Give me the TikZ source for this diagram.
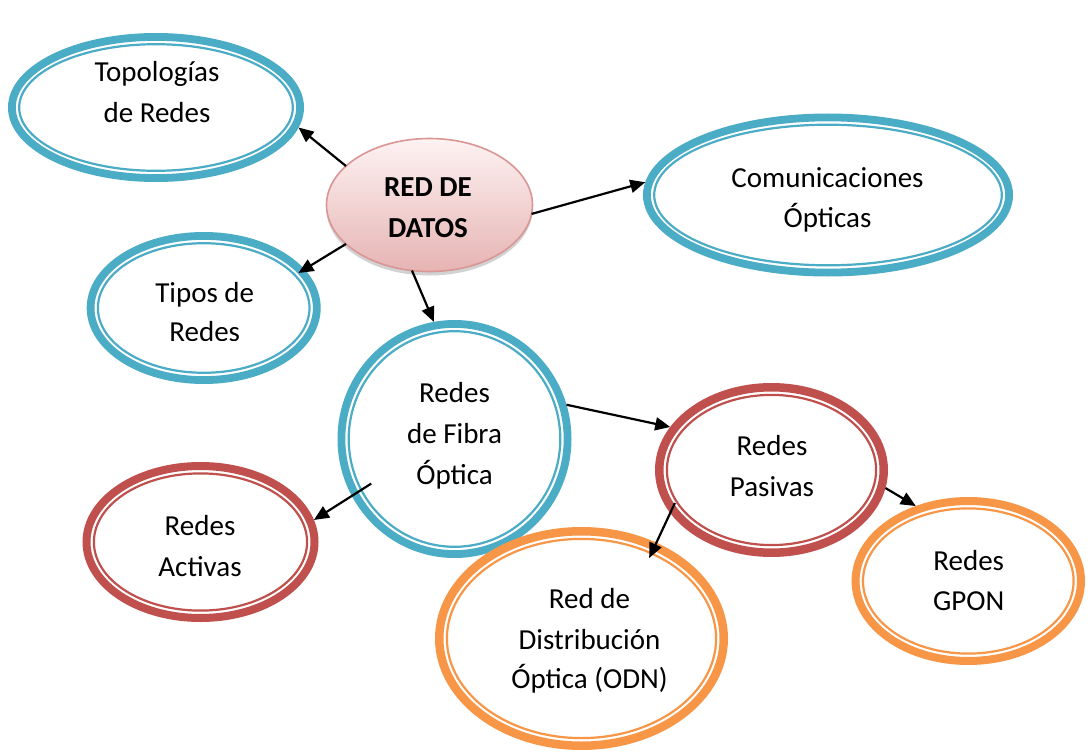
\documentclass[tikz,border=0pt]{standalone}
\usepackage{fontspec}
\setmainfont{Carlito}
\usetikzlibrary{arrows.meta,shapes.geometric,shadows}
\definecolor{ringblue}{HTML}{4BACC6}
\definecolor{ringred}{HTML}{C0504D}
\definecolor{ringorange}{HTML}{F79646}
\definecolor{coreborder}{HTML}{D99694}
\definecolor{coretop}{HTML}{FDF2F2}
\definecolor{corebot}{HTML}{E6B4B3}
% name, rx, ry, colour, outer band width
\newcommand{\drawrings}[5]{%
  \draw[color=#4, line width=#5pt] (#1.center) ellipse [x radius={#2-#5/2}, y radius={#3-#5/2}];
  \draw[color=#4, line width=2.2pt] (#1.center) ellipse [x radius={#2-#5-3.4}, y radius={#3-#5-3.4}];
}
\tikzset{
  hold/.style={ellipse, inner sep=0pt, outer sep=0pt},
  txt/.style={anchor=base, inner sep=0pt, font=\fontsize{29}{35}\selectfont},
  arr/.style={line width=2.2pt, -{Triangle[length=15pt,width=13pt]}},
}
\begin{document}
\begin{tikzpicture}[x=1pt,y=-1pt]
\fill[white] (0,0) rectangle (1088,752);
\useasboundingbox (0,0) rectangle (1088,752);

% ellipses (outer sizes)
\node[hold, minimum width=296pt, minimum height=149pt] (topo) at (156,107.5) {};
\node[hold, minimum width=234pt, minimum height=152pt] (tipos) at (203.7,308) {};
\node[hold, minimum width=370pt, minimum height=163pt] (comm) at (828,195) {};
\node[hold, minimum width=234pt, minimum height=238pt] (fibra) at (454.5,439) {};
\node[hold, minimum width=233pt, minimum height=174pt] (pasivas) at (771.5,470) {};
\node[hold, minimum width=236pt, minimum height=160pt] (activas) at (200.5,542) {};
\node[hold, minimum width=293pt, minimum height=223pt] (odn) at (581.5,638.5) {};
\node[hold, minimum width=233pt, minimum height=168pt] (gpon) at (968.3,581) {};

\drawrings{topo}{148}{74.5}{ringblue}{7.8}
\drawrings{tipos}{117}{76}{ringblue}{7.8}
\drawrings{comm}{185}{81.5}{ringblue}{7.8}
\drawrings{fibra}{117}{119}{ringblue}{7.8}
\drawrings{pasivas}{116.5}{87}{ringred}{8.5}
\drawrings{activas}{118}{80}{ringred}{8}
\drawrings{odn}{146.5}{111.5}{ringorange}{8.5}
\drawrings{gpon}{116.7}{84}{ringorange}{8}

% central node
\node[ellipse, inner sep=0pt, outer sep=0pt, minimum width=206pt, minimum height=133pt,
      top color=coretop, bottom color=corebot, draw=coreborder, line width=1.6pt,
      drop shadow={shadow xshift=0pt, shadow yshift=-4pt, opacity=0.25, fill=black!70}] (red) at (429.5,205) {};

% texts
\node[txt, font=\fontsize{29}{35}\selectfont\bfseries] (redT1) at (428,196.7) {RED DE};
\node[txt, font=\fontsize{29}{35}\selectfont\bfseries] (redT2) at (428,237) {DATOS};
\node[txt] (topoT1) at (157,82) {Topologías};
\node[txt] (topoT2) at (157,122) {de Redes};
\node[txt] (commT1) at (827.5,187) {Comunicaciones};
\node[txt] (commT2) at (827.5,227) {Ópticas};
\node[txt] (tiposT1) at (204.7,302.7) {Tipos de};
\begin{scope}
  \clip (0,0) rectangle (1088,340.5);
  \node[txt] (tiposT2) at (204.7,341) {Redes};
\end{scope}
\node[txt] (fibraT1) at (454.5,402) {Redes};
\node[txt] (fibraT2) at (454.5,443) {de Fibra};
\node[txt] (fibraT3) at (454.5,484) {Óptica};
\node[txt] (pasivasT1) at (772,455) {Redes};
\node[txt] (pasivasT2) at (772,496.7) {Pasivas};
\node[txt] (activasT1) at (200,535) {Redes};
\node[txt] (activasT2) at (200,576.7) {Activas};
\node[txt] (odnT1) at (589.5,608) {Red de};
\node[txt] (odnT2) at (589.5,649) {Distribución};
\node[txt] (odnT3) at (589.5,688) {Óptica (ODN)};
\node[txt] (gponT1) at (968.7,570) {Redes};
\node[txt] (gponT2) at (968.7,610) {GPON};

% connectors
\draw[arr] (red.155) -- (topo.352);
\draw[arr, shorten >=-7pt] (red.205) -- (tipos.21);
\draw[arr] (red.255) -- (fibra.100);
\draw[arr] (red.355) -- (comm.176);
\draw[arr] (fibra.17) -- (pasivas.157);
\draw[arr, shorten <=-23pt] (fibra.209) -- (activas.11);
\draw[arr, shorten <=-11pt, shorten >=-17pt] (pasivas.203) -- (odn.52);
\draw[arr] (pasivas.351) -- (gpon.125);
\end{tikzpicture}
\end{document}
